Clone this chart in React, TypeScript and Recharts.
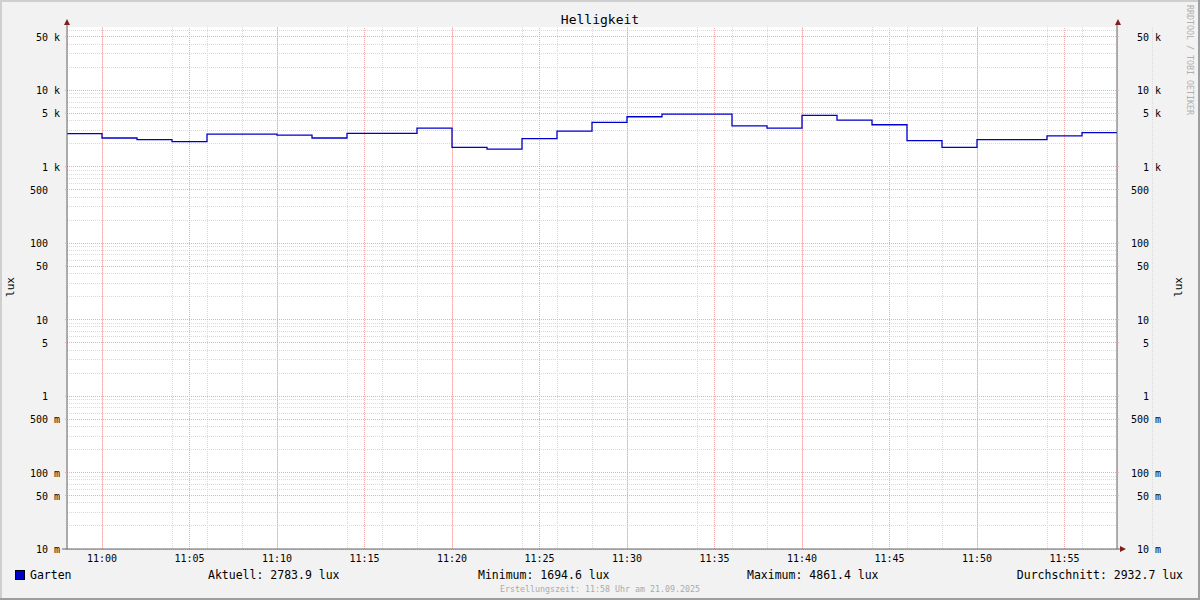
import React from "react";
import { LineChart, Line, XAxis, YAxis, CartesianGrid, ReferenceLine } from "recharts";

const MONO = "'DejaVu Sans Mono', monospace";

// minutes after 10:58, one sample every 2 min (last one repeated so the step runs to the edge)
const minutes = [
  0, 2, 4, 6, 8, 10, 12, 14, 16, 18, 20, 22, 24, 26, 28, 30, 32, 34, 36, 38, 40,
  42, 44, 46, 48, 50, 52, 54, 56, 58, 60,
];
const garten = [
  2700, 2370, 2260, 2120, 2655, 2655, 2580, 2370, 2730, 2730, 3180, 1790,
  1694.6, 2323, 2915, 3786, 4490, 4861.4, 4861.4, 3410, 3180, 4690, 4050, 3530,
  2190, 1790, 2260, 2260, 2530, 2783.9, 2783.9,
];

const xTicks = [2, 7, 12, 17, 22, 27, 32, 37, 42, 47, 52, 57];
const xLabels = [
  "11:00", "11:05", "11:10", "11:15", "11:20", "11:25",
  "11:30", "11:35", "11:40", "11:45", "11:50", "11:55",
];

const yTicks = [0.01, 0.05, 0.1, 0.5, 1, 5, 10, 50, 100, 500, 1000, 5000, 10000, 50000];
const yNums = ["10", "50", "100", "500", "1", "5", "10", "50", "100", "500", "1", "5", "10", "50"];
const yUnits = ["m", "m", "m", "m", "", "", "", "", "", "", "k", "k", "k", "k"];

const decades = [0.01, 0.1, 1, 10, 100, 1000, 10000];
const minorSteps = [2, 3, 4, 6, 7, 8, 9];

const stats = [
  { text: "Aktuell: 2783.9 lux", x: 208 },
  { text: "Minimum: 1694.6 lux", x: 478 },
  { text: "Maximum: 4861.4 lux", x: 747 },
];
const avgText = "Durchschnitt: 2932.7 lux";

const Y_MAX = 67000;
const W = 1200;
const H = 600;
const PLOT_LEFT = 67;
const PLOT_RIGHT = 1117;
const PLOT_TOP = 27;
const PLOT_BOTTOM = 549;
const MGRID = "#f0acac";

const data = minutes.map((m, i) => ({ t: m, lux: garten[i] }));

// grid helpers: minor lines every minute / at 2..9 of each decade
const minorXTicks = minutes
  .flatMap((m) => [m, m + 1])
  .filter((m) => m <= 60 && !xTicks.includes(m));
const minorYTicks = decades
  .flatMap((d) => minorSteps.map((s) => d * s))
  .filter((v) => v <= Y_MAX);

function YTick({ y, payload, side }: any) {
  const i = yTicks.indexOf(payload.value);
  const end = side === "left" ? PLOT_LEFT - 19 : PLOT_RIGHT + 32;
  const st = { fontFamily: MONO, fontSize: 10, fill: "#000" };
  return (
    <g>
      <text x={end} y={y + 0.5} textAnchor="end" dominantBaseline="central" style={st}>
        {yNums[i]}
      </text>
      {yUnits[i] && (
        <text x={end + 6} y={y + 0.5} dominantBaseline="central" style={st}>
          {yUnits[i]}
        </text>
      )}
    </g>
  );
}

function XTick({ x, payload }: any) {
  const i = xTicks.indexOf(payload.value);
  return (
    <text
      x={x}
      y={PLOT_BOTTOM + 9}
      textAnchor="middle"
      dominantBaseline="central"
      style={{ fontFamily: MONO, fontSize: 10, fill: "#000" }}
    >
      {xLabels[i]}
    </text>
  );
}

export default function App() {
  const arrow = "#801f1f";
  const axis = "#666";
  return (
    <div
      style={{
        position: "absolute",
        left: 0,
        top: 0,
        width: W,
        height: H,
        background: "#f2f2f2",
        fontFamily: MONO,
      }}
    >
      {/* canvas */}
      <div
        style={{
          position: "absolute",
          left: PLOT_LEFT,
          top: PLOT_TOP,
          width: PLOT_RIGHT - PLOT_LEFT,
          height: PLOT_BOTTOM - PLOT_TOP,
          background: "#fff",
        }}
      />
      <div style={{ position: "absolute", left: 0, top: 0 }}>
        <LineChart
          width={W}
          height={H}
          data={data}
          margin={{ top: PLOT_TOP, right: 0, bottom: 0, left: 0 }}
        >
          <CartesianGrid
            xAxisId="minor"
            yAxisId="minor"
            syncWithTicks
            stroke="#dadada"
            strokeDasharray="1 1"
            shapeRendering="crispEdges"
          />
          <XAxis
            xAxisId="minor"
            type="number"
            domain={[0, 60]}
            ticks={minorXTicks}
            interval={0}
            hide
            allowDataOverflow
          />
          <YAxis
            yAxisId="minor"
            scale="log"
            domain={[0.01, Y_MAX]}
            ticks={minorYTicks}
            interval={0}
            hide
            allowDataOverflow
          />
          <XAxis
            xAxisId="main"
            dataKey="t"
            type="number"
            domain={[0, 60]}
            ticks={xTicks}
            interval={0}
            height={H - PLOT_BOTTOM}
            tick={<XTick />}
            tickLine={false}
            axisLine={{ stroke: axis }}
            allowDataOverflow
          />
          <YAxis
            yAxisId="l"
            scale="log"
            domain={[0.01, Y_MAX]}
            ticks={yTicks}
            interval={0}
            width={PLOT_LEFT}
            tick={<YTick side="left" />}
            tickLine={{ stroke: MGRID }}
            tickSize={2}
            axisLine={{ stroke: axis }}
            allowDataOverflow
          />
          <YAxis
            yAxisId="r"
            orientation="right"
            scale="log"
            domain={[0.01, Y_MAX]}
            ticks={yTicks}
            interval={0}
            width={W - PLOT_RIGHT}
            tick={<YTick side="right" />}
            tickLine={{ stroke: MGRID }}
            tickSize={2}
            axisLine={{ stroke: axis }}
            allowDataOverflow
          />
          {yTicks.map((v) => (
            <ReferenceLine
              key={`my${v}`}
              xAxisId="main"
              yAxisId="l"
              y={v}
              stroke={MGRID}
              strokeDasharray="1 1"
              shapeRendering="crispEdges"
            />
          ))}
          {xTicks.map((m) => (
            <ReferenceLine
              key={`mx${m}`}
              xAxisId="main"
              yAxisId="l"
              x={m}
              stroke={MGRID}
              strokeDasharray="1 1"
              shapeRendering="crispEdges"
            />
          ))}
          <Line
            xAxisId="main"
            yAxisId="l"
            dataKey="lux"
            type="stepAfter"
            stroke="#0000cc"
            strokeWidth={1.3}
            dot={false}
            activeDot={false}
            isAnimationActive={false}
          />
        </LineChart>
      </div>

      <svg
        width={W}
        height={H}
        style={{ position: "absolute", left: 0, top: 0, pointerEvents: "none" }}
      >
        {/* 3d frame */}
        <rect x={0} y={0} width={W} height={2} fill="#cfcfcf" />
        <rect x={0} y={0} width={2} height={H} fill="#cfcfcf" />
        <rect x={0} y={H - 2} width={W} height={2} fill="#9e9e9e" />
        <rect x={W - 2} y={0} width={2} height={H} fill="#9e9e9e" />

        {/* axis extensions and arrows */}
        <line x1={PLOT_LEFT} y1={PLOT_TOP} x2={PLOT_LEFT} y2={23} stroke={axis} />
        <line x1={PLOT_RIGHT} y1={PLOT_TOP} x2={PLOT_RIGHT} y2={23} stroke={axis} />
        <line x1={62} y1={PLOT_BOTTOM} x2={PLOT_LEFT} y2={PLOT_BOTTOM} stroke={axis} />
        <line x1={PLOT_RIGHT} y1={PLOT_BOTTOM} x2={1121} y2={PLOT_BOTTOM} stroke={axis} />
        <polygon points={`${PLOT_LEFT},19 ${PLOT_LEFT - 3},25 ${PLOT_LEFT + 3},25`} fill={arrow} />
        <polygon points={`${PLOT_RIGHT + 1},19 ${PLOT_RIGHT - 2},25 ${PLOT_RIGHT + 4},25`} fill={arrow} />
        <polygon points={`1126,${PLOT_BOTTOM} 1120,${PLOT_BOTTOM - 3} 1120,${PLOT_BOTTOM + 3}`} fill={arrow} />

        <text x={600} y={19} textAnchor="middle" dominantBaseline="central" fontFamily={MONO} fontSize={13}>
          Helligkeit
        </text>
        <text
          x={10}
          y={287}
          textAnchor="middle"
          dominantBaseline="central"
          fontFamily={MONO}
          fontSize={11}
          transform="rotate(-90 10 287)"
        >
          lux
        </text>
        <text
          x={1178}
          y={287}
          textAnchor="middle"
          dominantBaseline="central"
          fontFamily={MONO}
          fontSize={11}
          transform="rotate(-90 1178 287)"
        >
          lux
        </text>
        <text
          x={1190}
          y={5}
          dominantBaseline="central"
          fontFamily={MONO}
          fontSize={8.3}
          fill="#b0b0b0"
          transform="rotate(90 1190 5)"
        >
          RRDTOOL / TOBI OETIKER
        </text>

        {/* legend */}
        <rect x={15.5} y={570.5} width={9} height={9} fill="#0000cc" stroke="#000" />
        <text x={30} y={575} dominantBaseline="central" fontFamily={MONO} fontSize={11.5}>
          Garten
        </text>
        {stats.map((s) => (
          <text key={s.text} x={s.x} y={575} dominantBaseline="central" fontFamily={MONO} fontSize={11.5}>
            {s.text}
          </text>
        ))}
        <text x={1183} y={575} textAnchor="end" dominantBaseline="central" fontFamily={MONO} fontSize={11.5}>
          {avgText}
        </text>
        <text x={600} y={589} textAnchor="middle" dominantBaseline="central" fontFamily={MONO} fontSize={8.3} fill="#aaa">
          Erstellungszeit: 11:58 Uhr am 21.09.2025
        </text>
      </svg>
    </div>
  );
}
